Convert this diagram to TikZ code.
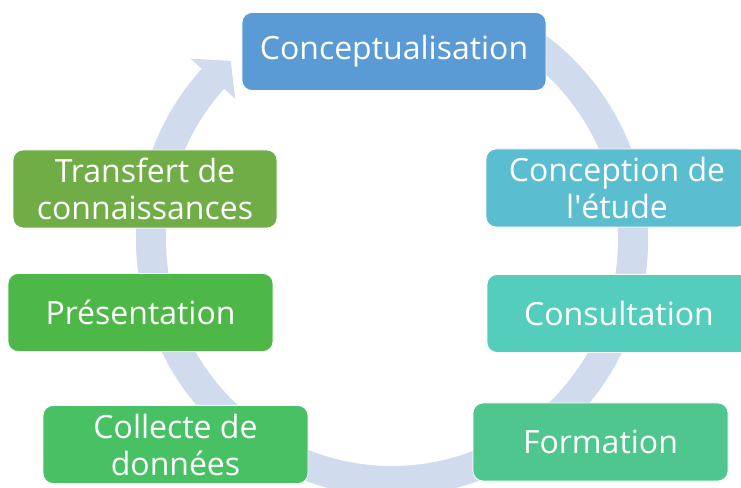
\documentclass[tikz,border=0pt]{standalone}
\usepackage{fontspec}
\setmainfont{Open Sans}
\usetikzlibrary{calc}
\definecolor{ringblue}{RGB}{208,220,238}
\definecolor{conceptblue}{RGB}{91,155,213}
\definecolor{designteal}{RGB}{90,190,208}
\definecolor{consultgreen}{RGB}{85,205,188}
\definecolor{traingreen}{RGB}{79,198,141}
\definecolor{collectgreen}{RGB}{72,193,100}
\definecolor{presentgreen}{RGB}{77,184,72}
\definecolor{transfergreen}{RGB}{112,173,71}
\tikzset{stage/.style={draw=white, line width=0.8pt, rounded corners=10pt, text=white, align=center,
    font=\fontsize{32}{37}\selectfont, inner sep=0pt, minimum height=78pt}}

\begin{document}
\begin{tikzpicture}[x=1pt,y=1pt]
	\useasboundingbox (0,0) rectangle (741,487);
	\clip (0,0) rectangle (741,487);
	
	% ring with its arrow head
	\coordinate (ctr) at (392,247);
	\fill[ringblue] ($(ctr)+(62:256pt)$) arc (62:-222:256pt)
		-- ($(ctr)+(-222:271pt)$) -- ($(ctr)+(-228:241pt)$) -- ($(ctr)+(-222:211pt)$)
		-- ($(ctr)+(-222:226pt)$) arc (-222:62:226pt) -- cycle;
	
	\node[stage, fill=conceptblue, minimum width=304pt] (concept) at (394,435.5) {Conceptualisation};
	\node[stage, fill=designteal, minimum width=262pt] (design) at (617,299) {Conception de\\l\textquotesingle étude};
	\node[stage, fill=consultgreen, minimum width=264pt] (consult) at (619,173.5) {Consultation};
	\node[stage, fill=traingreen, minimum width=255pt] (train) at (600.5,45) {Formation};
	\node[stage, fill=collectgreen, minimum width=265pt] (collect) at (175.5,42.5) {Collecte de\\données};
	\node[stage, fill=presentgreen, minimum width=265pt] (present) at (140.5,174.5) {Présentation};
	\node[stage, fill=transfergreen, minimum width=264pt] (transfer) at (145,298) {Transfert de\\connaissances};
\end{tikzpicture}
\end{document}
